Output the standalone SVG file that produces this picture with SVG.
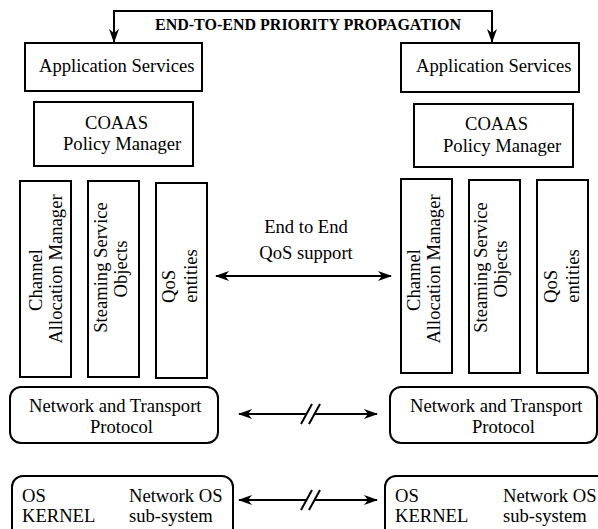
<svg xmlns="http://www.w3.org/2000/svg" width="598" height="529" viewBox="0 0 598 529">
<style>
.box{fill:#fff;stroke:#000;stroke-width:2}
.t{font-family:"Liberation Serif","Times New Roman",serif;font-size:18.6px;fill:#000}
.tb{font-family:"Liberation Serif","Times New Roman",serif;font-size:16px;font-weight:bold;fill:#000}
.c{text-anchor:middle}
.ln{fill:none;stroke:#000;stroke-width:2}
</style>
<defs>
<marker id="ah" viewBox="0 0 14 10" refX="13" refY="5" markerWidth="14" markerHeight="10" markerUnits="userSpaceOnUse" orient="auto-start-reverse">
<path d="M0,0 L14,5 L0,10 L4,5 z" fill="#000"/>
</marker>
</defs>
<rect width="598" height="529" fill="#fff"/>

<g id="connectors">
<path class="ln" d="M114,42 V11 H492 V42" marker-start="url(#ah)" marker-end="url(#ah)"/>
<text class="tb" x="155" y="30">END-TO-END PRIORITY PROPAGATION</text>
<line class="ln" x1="216" y1="276" x2="391" y2="276" marker-start="url(#ah)" marker-end="url(#ah)"/>
<text class="t c" x="306" y="233">End to End</text>
<text class="t c" x="306" y="259">QoS support</text>
<line class="ln" x1="239" y1="414" x2="306" y2="414" marker-start="url(#ah)"/>
<line class="ln" x1="314" y1="414" x2="377" y2="414" marker-end="url(#ah)"/>
<line class="ln" x1="301" y1="424" x2="312" y2="404"/>
<line class="ln" x1="309" y1="424" x2="320" y2="404"/>
<line class="ln" x1="239" y1="500" x2="306" y2="500" marker-start="url(#ah)"/>
<line class="ln" x1="314" y1="500" x2="377" y2="500" marker-end="url(#ah)"/>
<line class="ln" x1="301" y1="510" x2="312" y2="490"/>
<line class="ln" x1="309" y1="510" x2="320" y2="490"/>
</g>

<g id="app-left"><rect class="box" x="25" y="43" width="177" height="48"/><text class="t" x="39" y="72">Application Services</text></g>
<g id="app-right"><rect class="box" x="401" y="43" width="178" height="49"/><text class="t" x="416" y="72">Application Services</text></g>

<g id="coaas-left"><rect class="box" x="34" y="102" width="159" height="64"/><text class="t" x="85" y="129">COAAS</text><text class="t" x="63" y="150">Policy Manager</text></g>
<g id="coaas-right"><rect class="box" x="414" y="104" width="159" height="63"/><text class="t" x="465" y="130">COAAS</text><text class="t" x="443" y="152">Policy Manager</text></g>

<g id="cam-left"><rect class="box" x="20" y="181" width="51" height="196"/>
<text class="t c" transform="translate(42,280) rotate(-90)">Channel</text>
<text class="t c" transform="translate(62,269) rotate(-90)">Allocation Manager</text></g>
<g id="sso-left"><rect class="box" x="88" y="181" width="51" height="196"/>
<text class="t c" transform="translate(107,267.5) rotate(-90)">Steaming Service</text>
<text class="t c" transform="translate(127,269) rotate(-90)">Objects</text></g>
<g id="qos-left"><rect class="box" x="156" y="183" width="51" height="195"/>
<text class="t c" transform="translate(175,286.5) rotate(-90)">QoS</text>
<text class="t c" transform="translate(197,276) rotate(-90)">entities</text></g>

<g id="cam-right"><rect class="box" x="401" y="179" width="51" height="194"/>
<text class="t c" transform="translate(420,280) rotate(-90)">Channel</text>
<text class="t c" transform="translate(440,269) rotate(-90)">Allocation Manager</text></g>
<g id="sso-right"><rect class="box" x="469" y="180" width="51" height="193"/>
<text class="t c" transform="translate(487,267.5) rotate(-90)">Steaming Service</text>
<text class="t c" transform="translate(507,269) rotate(-90)">Objects</text></g>
<g id="qos-right"><rect class="box" x="537" y="180" width="51" height="193"/>
<text class="t c" transform="translate(557,286.5) rotate(-90)">QoS</text>
<text class="t c" transform="translate(579,276) rotate(-90)">entities</text></g>

<g id="net-left"><rect class="box" x="10" y="387" width="208" height="56" rx="11"/><text class="t" x="29" y="412">Network and Transport</text><text class="t" x="90" y="433">Protocol</text></g>
<g id="net-right"><rect class="box" x="390" y="387" width="207" height="56" rx="11"/><text class="t" x="410" y="412">Network and Transport</text><text class="t" x="472" y="433">Protocol</text></g>

<g id="os-left"><rect class="box" x="12" y="476" width="221" height="70" rx="11"/><text class="t" x="22" y="502">OS</text><text class="t" x="129" y="502">Network OS</text><text class="t" x="22" y="522">KERNEL</text><text class="t" x="129" y="522">sub-system</text></g>
<g id="os-right"><rect class="box" x="385" y="476" width="225" height="70" rx="11"/><text class="t" x="395" y="502">OS</text><text class="t" x="503" y="502">Network OS</text><text class="t" x="395" y="522">KERNEL</text><text class="t" x="503" y="522">sub-system</text></g>
</svg>
